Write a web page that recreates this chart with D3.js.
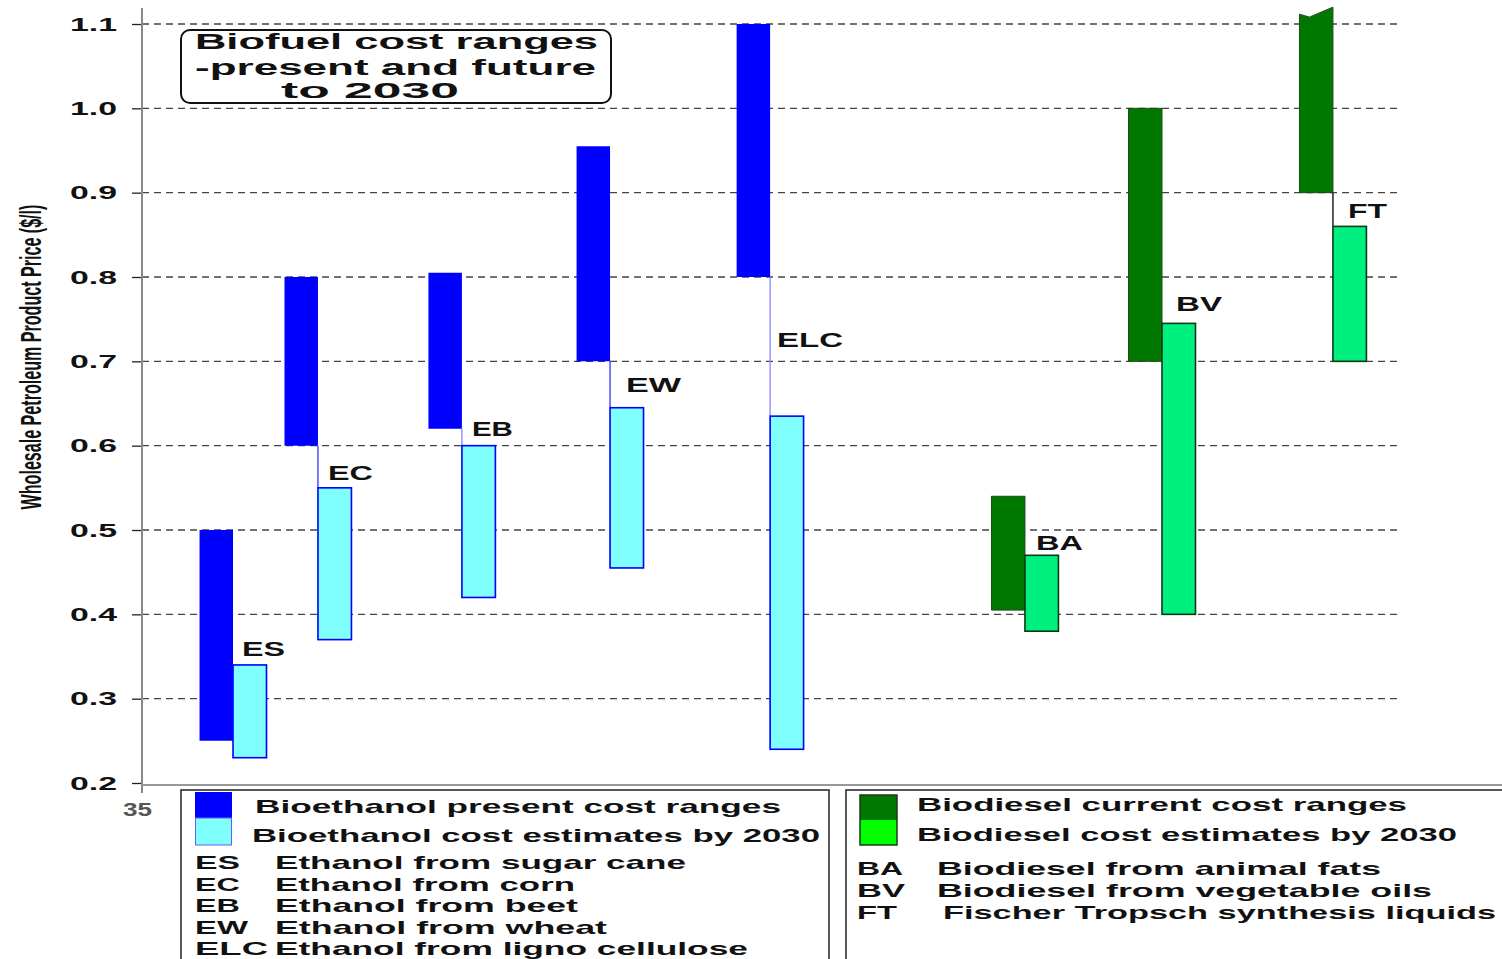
<!DOCTYPE html>
<html><head><meta charset="utf-8">
<script src="https://cdn.jsdelivr.net/npm/d3@7"></script>
<style>body{margin:0;background:#fff}svg{display:block}</style>
</head><body>
<script>
// ---------- DATA ----------
const codes = ["ES","EC","EB","EW","ELC","BA","BV","FT"];
const groups = ["ethanol","ethanol","ethanol","ethanol","ethanol","biodiesel","biodiesel","biodiesel"];
const xPos = [39.35, 43.41, 50.29, 57.37, 65.02, 77.20, 83.75, 91.92];
const presentLow  = [0.25, 0.60, 0.62, 0.70, 0.80, 0.405, 0.70, 0.90];
const presentHigh = [0.50, 0.80, 0.805, 0.955, 1.10, 0.54, 1.00, 1.12];
const futureLow   = [0.23, 0.37, 0.42, 0.455, 0.24, 0.38, 0.40, 0.70];
const futureHigh  = [0.34, 0.55, 0.60, 0.645, 0.635, 0.47, 0.745, 0.86];
const yTicks = [0.2, 0.3, 0.4, 0.5, 0.6, 0.7, 0.8, 0.9, 1.0, 1.1];
const xTickLabels = ["35"];
const titleLines = ["Biofuel cost ranges", "-present and future", "to 2030"];
const yTitle = "Wholesale Petroleum Product Price ($/l)";
const ethSeriesNames = ["Bioethanol present cost ranges", "Bioethanol cost estimates by 2030"];
const ethCodes = ["ES","EC","EB","EW","ELC"];
const ethNames = ["Ethanol from sugar cane","Ethanol from corn","Ethanol from beet","Ethanol from wheat","Ethanol from ligno cellulose"];
const bioSeriesNames = ["Biodiesel current cost ranges", "Biodiesel cost estimates by 2030"];
const bioCodes = ["BA","BV","FT"];
const bioNames = ["Biodiesel from animal fats","Biodiesel from vegetable oils","Fischer Tropsch synthesis liquids"];

// ---------- LAYOUT / STYLE ----------
const W = 1502, H = 959;
const FONT = "'Liberation Sans', Arial, sans-serif";
const svg = d3.select("body").append("svg").attr("width", W).attr("height", H);
const y = d3.scaleLinear().domain([0.2, 1.1]).range([783, 24]);
const x = d3.scaleLinear().domain([35, 100]).range([142, 1502]);
const barW = 1.6; // x units
const col = {
  ethanol: {present: "#0000ff", future: "#80ffff", fstroke: "#0000ff", conn: "#3030ff"},
  biodiesel: {present: "#007800", future: "#00f080", fstroke: "#0a3a14", conn: "#000000"}
};
function fit(sel, w){ sel.attr("textLength", w).attr("lengthAdjust", "spacingAndGlyphs"); return sel; }

// gridlines
svg.append("g").selectAll("line").data(yTicks.filter(d => d > 0.2)).join("line")
  .attr("x1", 142).attr("x2", 1400).attr("y1", d => y(d)).attr("y2", d => y(d))
  .attr("stroke", "#444").attr("stroke-width", 1.3).attr("stroke-dasharray", "7,5");

// y axis
const yAxis = svg.append("g").attr("transform", "translate(142,0)")
  .call(d3.axisLeft(y).tickValues(yTicks).tickFormat(d3.format(".1f")).tickSize(10).tickPadding(15));
yAxis.select(".domain").remove();
yAxis.selectAll(".tick line").attr("stroke", "#222").attr("stroke-width", 1.3);
yAxis.selectAll(".tick text").attr("font-family", FONT).attr("font-weight", "bold")
  .attr("font-size", 18).attr("fill", "#111").attr("dy", "0.35em").call(fit, 47);
svg.append("line").attr("x1", 142).attr("x2", 142).attr("y1", 8).attr("y2", 793)
  .attr("stroke", "#888").attr("stroke-width", 2);
// x axis line
svg.append("line").attr("x1", 142).attr("x2", W).attr("y1", 785).attr("y2", 785)
  .attr("stroke", "#999").attr("stroke-width", 2);
svg.append("g").selectAll("text").data(xTickLabels).join("text")
  .attr("x", 123).attr("y", 816).text(d => d)
  .attr("font-family", FONT).attr("font-weight", "bold").attr("font-size", 18).attr("fill", "#555")
  .call(fit, 29);

// y title (condensed by horizontal scale)
const yt = svg.append("text").attr("text-anchor", "middle").attr("font-family", FONT)
  .attr("font-weight", "bold").attr("font-size", 29).attr("fill", "#111").text(yTitle);
const ytLen = yt.node().getComputedTextLength();
yt.attr("transform", `translate(41,357) rotate(-90) scale(${305 / ytLen},1)`);

// title box
svg.append("rect").attr("x", 181).attr("y", 30).attr("width", 430).attr("height", 73)
  .attr("rx", 9).attr("fill", "#fff").attr("stroke", "#111").attr("stroke-width", 2);
const tX = [195, 195, 281], tY = [49, 75, 98], tW = [403, 401, 178];
svg.append("g").selectAll("text").data(titleLines).join("text")
  .attr("x", (d, i) => tX[i]).attr("y", (d, i) => tY[i]).text(d => d)
  .attr("font-family", FONT).attr("font-weight", "bold").attr("font-size", 22).attr("fill", "#111")
  .each(function(d, i){ fit(d3.select(this), tW[i]); });

// bars
const data = codes.map((c, i) => ({code: c, g: groups[i], x: xPos[i],
  pl: presentLow[i], ph: presentHigh[i], fl: futureLow[i], fh: futureHigh[i]}));

// connectors
svg.append("g").selectAll("line").data(data.filter(d => d.pl > d.fh)).join("line")
  .attr("x1", d => x(d.x)).attr("x2", d => x(d.x))
  .attr("y1", d => y(d.pl)).attr("y2", d => y(d.fh))
  .attr("stroke", d => d.code === "ELC" || d.code === "EB" ? "#8888ff" : col[d.g].conn)
  .attr("stroke-width", 1.3);

// present bars
svg.append("g").selectAll("path").data(data).join("path")
  .attr("d", d => {
    const x0 = x(d.x - barW), x1 = x(d.x), yb = y(d.pl), yt = y(d.ph);
    if (d.ph > 1.1) { // broken top
      return `M${x0},${yb}L${x0},${yt + 7}L${x0 + 10},${yt + 10}L${x0 + 24},${yt + 4}L${x1},${yt}L${x1},${yb}Z`;
    }
    return `M${x0},${yb}L${x0},${yt}L${x1},${yt}L${x1},${yb}Z`;
  })
  .attr("fill", d => col[d.g].present)
  .attr("stroke", d => d.g === "biodiesel" ? "#1d4a1d" : "none").attr("stroke-width", 1);

// future bars
svg.append("g").selectAll("rect").data(data).join("rect")
  .attr("x", d => x(d.x)).attr("width", d => x(d.x + barW) - x(d.x))
  .attr("y", d => y(d.fh)).attr("height", d => y(d.fl) - y(d.fh))
  .attr("fill", d => col[d.g].future).attr("stroke", d => col[d.g].fstroke).attr("stroke-width", 1.6);

// labels
const lblDx = {ES: 9, EC: 10, EB: 10, EW: 16, ELC: 7, BA: 11, BV: 14, FT: 15};
const lblDy = {ES: -9, EC: -8, EB: -10, EW: -16, ELC: -69, BA: -5, BV: -12, FT: -8};
const lblW = {ES: 43, EC: 45, EB: 41, EW: 55, ELC: 66, BA: 47, BV: 46, FT: 39};
svg.append("g").selectAll("text").data(data).join("text")
  .attr("x", d => x(d.x) + lblDx[d.code]).attr("y", d => y(d.fh) + lblDy[d.code])
  .text(d => d.code).attr("font-family", FONT).attr("font-weight", "bold")
  .attr("font-size", 21).attr("fill", "#111")
  .each(function(d){ fit(d3.select(this), lblW[d.code]); });

// ---------- LEGENDS ----------
const lg = svg.append("g");
lg.append("rect").attr("x", 181).attr("y", 790).attr("width", 648).attr("height", 190)
  .attr("fill", "#fff").attr("stroke", "#222").attr("stroke-width", 1.5);
lg.append("rect").attr("x", 846).attr("y", 790).attr("width", 680).attr("height", 190)
  .attr("fill", "#fff").attr("stroke", "#222").attr("stroke-width", 1.5);
// swatches
lg.append("rect").attr("x", 195).attr("y", 792).attr("width", 37).attr("height", 26).attr("fill", col.ethanol.present);
lg.append("rect").attr("x", 195.5).attr("y", 818).attr("width", 36).attr("height", 27)
  .attr("fill", col.ethanol.future).attr("stroke", "#6060ff").attr("stroke-width", 1);
lg.append("rect").attr("x", 860).attr("y", 795).attr("width", 37).attr("height", 25).attr("fill", col.biodiesel.present);
lg.append("rect").attr("x", 860).attr("y", 820).attr("width", 37).attr("height", 25).attr("fill", "#00ff00");
lg.append("rect").attr("x", 860).attr("y", 795).attr("width", 37).attr("height", 50)
  .attr("fill", "none").attr("stroke", "#1b3a1b").attr("stroke-width", 1.5);

function legendText(arr, xs, ys, ws){
  lg.append("g").selectAll("text").data(arr).join("text")
    .attr("x", (d, i) => xs[i]).attr("y", (d, i) => ys[i]).text(d => d)
    .attr("font-family", FONT).attr("font-weight", "bold").attr("font-size", 19).attr("fill", "#111")
    .each(function(d, i){ fit(d3.select(this), ws[i]); });
}
legendText(ethSeriesNames, [255, 252], [813, 842], [526, 568]);
legendText(ethCodes, [195,195,195,195,195], [869, 891, 912, 934, 955], [45, 45, 45, 53, 73]);
legendText(ethNames, [275,275,275,275,275], [869, 891, 912, 934, 955], [411, 300, 303, 332, 473]);
legendText(bioSeriesNames, [917, 917], [811, 841], [490, 540]);
legendText(bioCodes, [857, 857, 857], [875, 897, 919], [46, 48, 40]);
legendText(bioNames, [937, 937, 943], [875, 897, 919], [444, 495, 553]);
</script>
</body></html>
